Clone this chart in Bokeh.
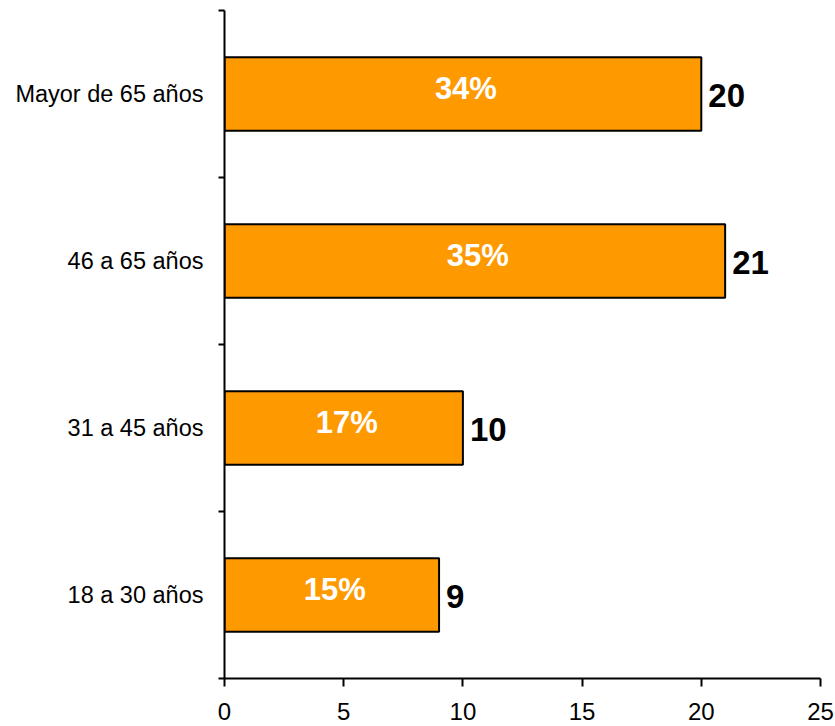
from bokeh.plotting import figure
from bokeh.models import Range1d, FixedTicker, ColumnDataSource, LabelSet
from bokeh.core.properties import value
from bokeh.embed import file_html
from bokeh.resources import INLINE

categories = ["18 a 30 años", "31 a 45 años", "46 a 65 años", "Mayor de 65 años"]
values = [9, 10, 21, 20]
percents = ["15%", "17%", "35%", "34%"]
x_ticks = [0, 5, 10, 15, 20, 25]

ypos = [i + 0.5 for i in range(len(categories))]
src = ColumnDataSource(dict(
    y=ypos, v=values, half=[v / 2 for v in values],
    vl=[str(v) for v in values], pl=percents,
))

p = figure(width=835, height=726, output_backend="svg", toolbar_location=None,
           x_range=Range1d(0, 25), y_range=Range1d(0, len(categories)),
           min_border_left=224, min_border_right=15, min_border_top=10, min_border_bottom=48)
p.outline_line_color = None
p.grid.visible = False
p.background_fill_color = "white"
p.border_fill_color = "white"

p.hbar(y="y", right="v", left=0, height=0.44, source=src,
       fill_color="#FF9900", line_color="black", line_width=2)

p.add_layout(LabelSet(x="half", y="y", text="pl", source=src, x_offset=3, y_offset=6,
                      text_align="center", text_baseline="middle",
                      text_color="white", text_font_style="bold", text_font_size="31px",
                      text_font=value("Liberation Sans")))
p.add_layout(LabelSet(x="v", y="y", text="vl", source=src, x_offset=7, y_offset=-1,
                      text_align="left", text_baseline="middle",
                      text_color="black", text_font_style="bold", text_font_size="33px",
                      text_font=value("'Liberation Sans Narrow', 'Liberation Sans'")))

xa = p.xaxis[0]
xa.ticker = FixedTicker(ticks=x_ticks)
xa.axis_line_width = 2
xa.axis_line_color = "black"
xa.major_tick_in = 0
xa.major_tick_out = 8
xa.major_tick_line_width = 2
xa.minor_tick_line_color = None
xa.major_label_text_font = "Liberation Sans"
xa.major_label_text_font_size = "24px"
xa.major_label_text_color = "black"
xa.major_label_standoff = 16

ya = p.yaxis[0]
ya.ticker = FixedTicker(ticks=ypos, minor_ticks=list(range(len(categories) + 1)))
ya.major_label_overrides = {y: c for y, c in zip(ypos, categories)}
ya.axis_line_width = 2
ya.axis_line_color = "black"
ya.major_tick_in = 0
ya.major_tick_out = 0
ya.minor_tick_in = 0
ya.minor_tick_out = 6
ya.minor_tick_line_width = 2
ya.minor_tick_line_color = "black"
ya.major_label_text_font = "Liberation Sans"
ya.major_label_text_font_size = "23.5px"
ya.major_label_text_color = "black"
ya.major_label_standoff = 15

open("out.html", "w").write(file_html(p, INLINE))
